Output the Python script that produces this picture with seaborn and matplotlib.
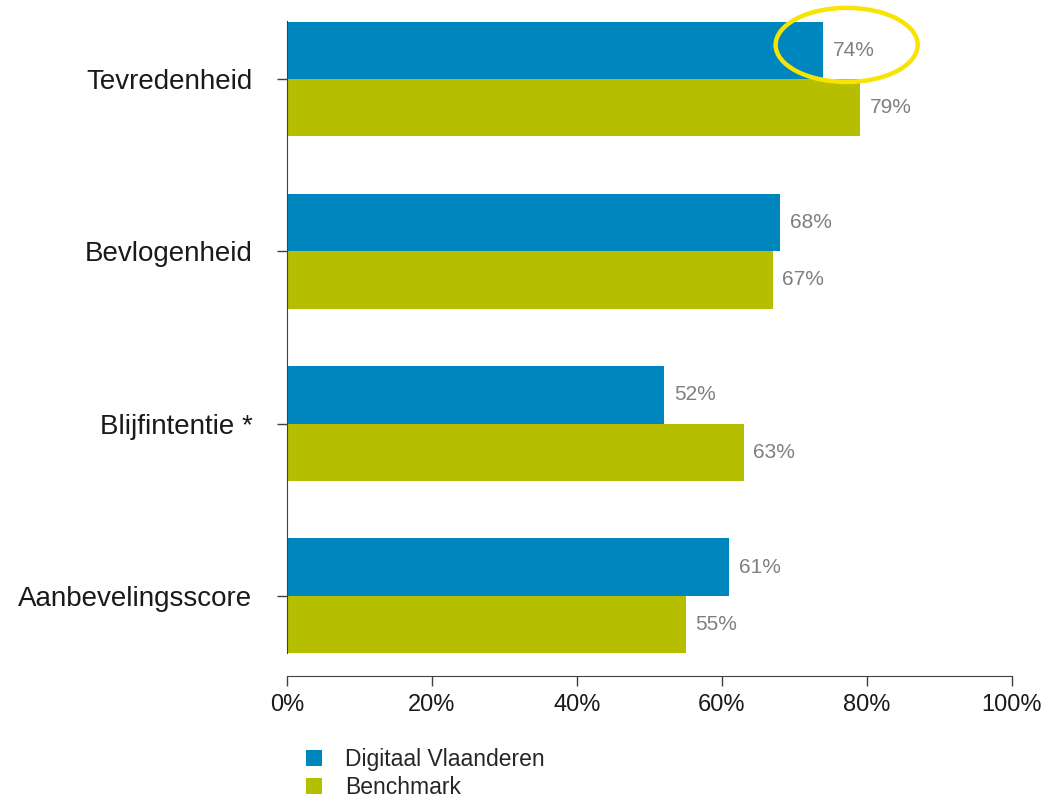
import pandas as pd
import seaborn as sns
import matplotlib.pyplot as plt
from matplotlib.patches import Ellipse

# Data
categories = ["Tevredenheid", "Bevlogenheid", "Blijfintentie *", "Aanbevelingsscore"]
series_names = ["Digitaal Vlaanderen", "Benchmark"]
digitaal = [74, 68, 52, 61]
benchmark = [79, 67, 63, 55]
x_ticks = [0, 20, 40, 60, 80, 100]
x_tick_labels = ["0%", "20%", "40%", "60%", "80%", "100%"]

df = pd.DataFrame({
    "categorie": categories * 2,
    "reeks": [series_names[0]] * 4 + [series_names[1]] * 4,
    "score": digitaal + benchmark,
})

sns.set_style("white")
plt.rcParams["font.family"] = ["Liberation Sans", "DejaVu Sans"]

fig = plt.figure(figsize=(10.41, 7.97), dpi=100)
ax = fig.add_axes([0.2757, 0.1518, 0.6964, 0.8206])

sns.barplot(data=df, y="categorie", x="score", hue="reeks", orient="h",
            palette=["#0086BF", "#B5BF00"], width=0.667, gap=0, ax=ax,
            errorbar=None, saturation=1, linewidth=0)

for c in ax.containers:
    ax.bar_label(c, labels=[f"{v:.0f}%" for v in c.datavalues], padding=7,
                 color="#7F7F7F", fontsize=15)

ax.set_xlim(0, 100)
ax.set_ylim(3.465, -0.33)
ax.set_xticks(x_ticks)
ax.set_xticklabels(x_tick_labels, fontsize=17, color="#1a1a1a")
ax.set_yticks(range(len(categories)))
ax.set_yticklabels(categories, fontsize=20, color="#1a1a1a")
ax.set_xlabel("")
ax.set_ylabel("")

for s in ["top", "right"]:
    ax.spines[s].set_visible(False)
ax.spines["left"].set_color("#404040")
ax.spines["bottom"].set_color("#404040")
ax.spines["left"].set_bounds(-0.333, 3.333)
ax.tick_params(axis="both", bottom=True, left=True, length=7, width=1,
               color="#404040")
ax.tick_params(axis="y", pad=18)
ax.tick_params(axis="x", pad=6)

# yellow highlight around 74%
ax.add_patch(Ellipse((77.2, -0.197), 19.6, 0.43, fill=False,
                     edgecolor="#F7E400", linewidth=3.2, clip_on=False, zorder=5))

handles, labels = ax.get_legend_handles_labels()
ax.legend(handles, labels, loc="upper left", bbox_to_anchor=(0.294, 0.061),
          bbox_transform=fig.transFigure, frameon=False, fontsize=16.5,
          handlelength=0.7, handleheight=0.7, handletextpad=1.0,
          labelspacing=0.2, borderaxespad=0, borderpad=0)

fig.savefig("out.png", dpi=100)
